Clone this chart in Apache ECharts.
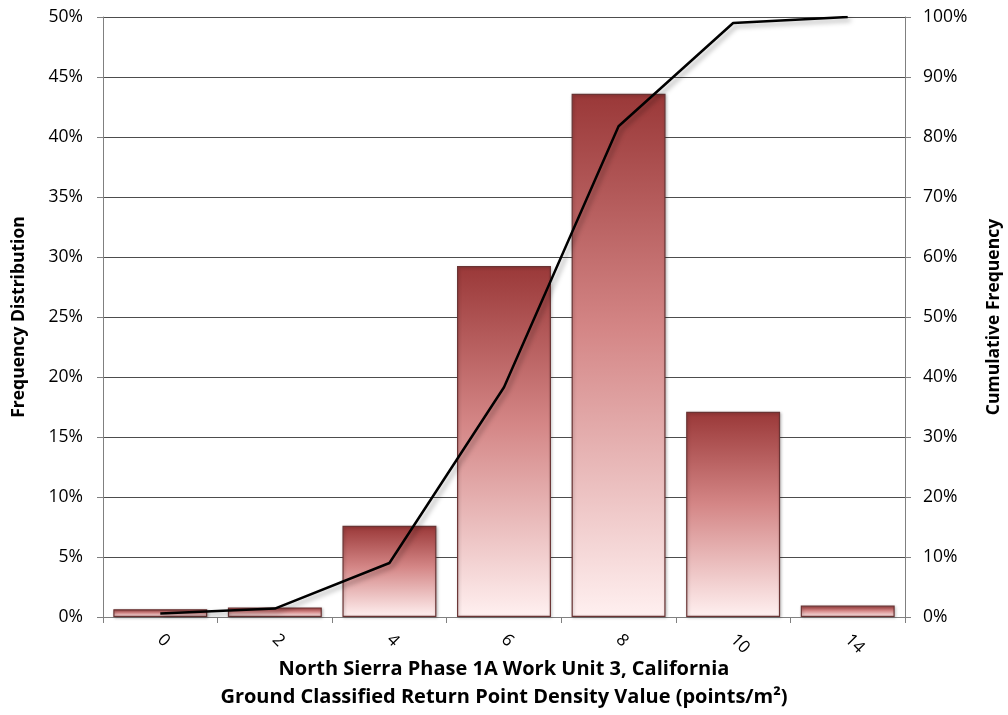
<!DOCTYPE html>
<html>
<head>
<meta charset="utf-8">
<script src="https://cdn.jsdelivr.net/npm/echarts@6/dist/echarts.min.js"></script>
<style>
  html, body { margin: 0; padding: 0; background: #ffffff; }
  #chart { width: 1008px; height: 715px; }
</style>
</head>
<body>
<div id="chart"></div>
<script>
// Point density classes (points/m²)
const categories = ['0', '2', '4', '6', '8', '10', '14'];
// Share of cells in each class (%)
const frequency = [0.65, 0.8, 7.6, 29.25, 43.6, 17.1, 0.95];
// Running total of the shares (%)
const cumulative = [0.6, 1.4, 9.0, 38.3, 81.8, 99.0, 100];
// Tick settings for the two value axes
const leftTicks = { min: 0, max: 50, interval: 5 };
const rightTicks = { min: 0, max: 100, interval: 10 };

const font = '"Open Sans", Lato, sans-serif';
const chart = echarts.init(document.getElementById('chart'), null, { renderer: 'canvas' });

chart.setOption({
  backgroundColor: '#ffffff',
  animation: false,
  grid: { left: 103, right: 103, top: 17, bottom: 98, containLabel: false, outerBoundsMode: 'none' },
  xAxis: {
    type: 'category',
    data: categories,
    axisLine: { show: true, lineStyle: { color: '#808080', width: 1 } },
    axisTick: { show: true, alignWithLabel: false, length: 6, lineStyle: { color: '#808080' } },
    axisLabel: { rotate: -45, margin: 20, fontFamily: font, fontSize: 17, color: '#000' },
    name: 'North Sierra Phase 1A Work Unit 3, California\nGround Classified Return Point Density Value (points/m²)',
    nameLocation: 'middle',
    nameGap: 38,
    nameMoveOverlap: false,
    nameTextStyle: { fontFamily: font, fontSize: 20, fontWeight: 'bold', color: '#000', lineHeight: 28 }
  },
  yAxis: [
    {
      type: 'value',
      min: leftTicks.min, max: leftTicks.max, interval: leftTicks.interval,
      position: 'left',
      axisLine: { show: true, lineStyle: { color: '#808080' } },
      axisTick: { show: true, length: 6, lineStyle: { color: '#808080' } },
      splitLine: { show: true, lineStyle: { color: '#4d4d4d', width: 1 } },
      axisLabel: { formatter: '{value}%', fontFamily: font, fontSize: 17.5, color: '#000', margin: 20 },
      name: 'Frequency Distribution',
      nameLocation: 'middle',
      nameGap: 75,
      nameMoveOverlap: false,
      nameTextStyle: { fontFamily: font, fontSize: 17.5, fontWeight: 'bold', color: '#000' }
    },
    {
      type: 'value',
      min: rightTicks.min, max: rightTicks.max, interval: rightTicks.interval,
      position: 'right',
      axisLine: { show: true, lineStyle: { color: '#808080' } },
      axisTick: { show: true, length: 6, lineStyle: { color: '#808080' } },
      splitLine: { show: false },
      axisLabel: { formatter: '{value}%', fontFamily: font, fontSize: 17.5, color: '#000', margin: 18 },
      name: 'Cumulative Frequency',
      nameLocation: 'middle',
      nameGap: 80,
      nameRotate: 90,
      nameMoveOverlap: false,
      nameTextStyle: { fontFamily: font, fontSize: 17.5, fontWeight: 'bold', color: '#000' }
    }
  ],
  series: [
    {
      type: 'bar',
      yAxisIndex: 0,
      data: frequency,
      barCategoryGap: '18%',
      itemStyle: {
        color: new echarts.graphic.LinearGradient(0, 0, 0, 1, [
          { offset: 0, color: '#9a3838' },
          { offset: 0.45, color: '#d48686' },
          { offset: 1, color: '#fff0f0' }
        ]),
        borderColor: '#6a3434',
        borderWidth: 1.2,
        shadowColor: 'rgba(0,0,0,0.25)',
        shadowBlur: 3,
        shadowOffsetX: 1,
        shadowOffsetY: 1
      },
      z: 2
    },
    {
      type: 'line',
      yAxisIndex: 1,
      data: cumulative,
      symbol: 'none',
      lineStyle: {
        color: '#000000',
        width: 2.5,
        shadowColor: 'rgba(0,0,0,0.35)',
        shadowBlur: 5,
        shadowOffsetX: 3,
        shadowOffsetY: 3
      },
      z: 3
    }
  ]
});
</script>
</body>
</html>
